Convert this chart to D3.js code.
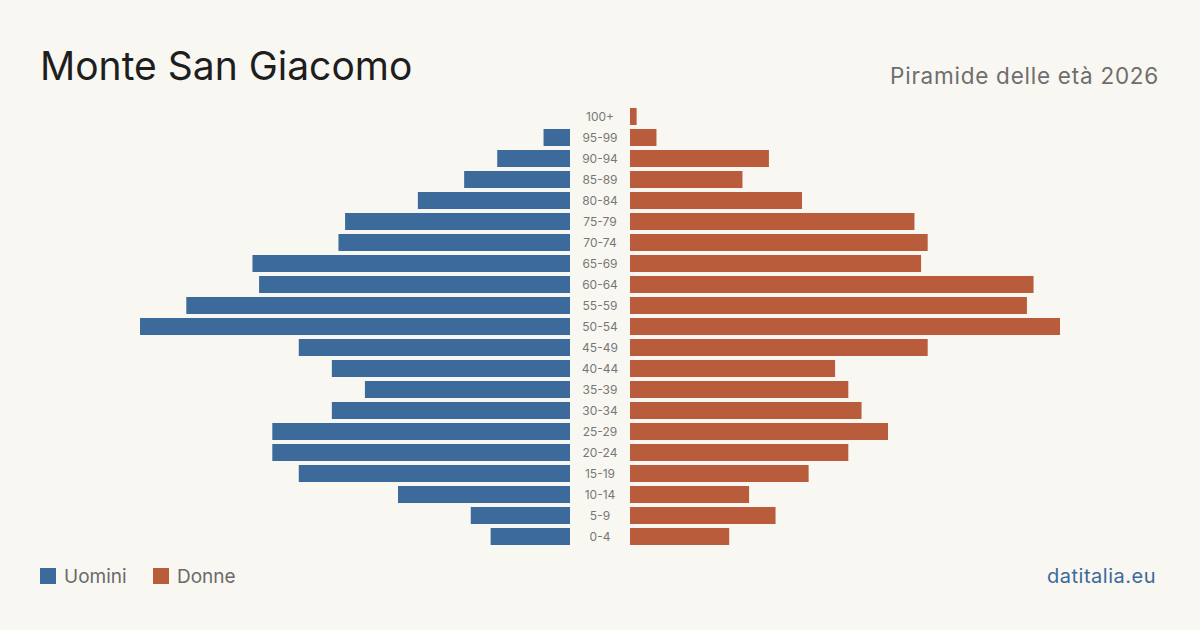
<!DOCTYPE html>
<html><head><meta charset="utf-8">
<script src="https://cdn.jsdelivr.net/npm/d3@7"></script>
<style>
html,body{margin:0;padding:0;background:#f9f7f2;}
svg{display:block;font-family:Inter,"Noto Sans",sans-serif;}
</style></head>
<body><svg id="c" width="1200" height="630"></svg>
<script>
const ageGroups = ["100+","95-99","90-94","85-89","80-84","75-79","70-74","65-69","60-64","55-59","50-54","45-49","40-44","35-39","30-34","25-29","20-24","15-19","10-14","5-9","0-4"];
const men   = [0,4,11,16,23,34,35,48,47,58,65,41,36,31,36,45,45,41,26,15,12];
const women = [1,4,21,17,26,43,45,44,61,60,65,45,31,33,35,39,33,27,18,22,15];
const legendLabels = ["Uomini","Donne"];
const colors = {men:"#3b6a9b", women:"#b95c3b"};

const svg = d3.select("#c");
svg.append("rect").attr("width",1200).attr("height",630).attr("fill","#f9f7f2");

const y = d3.scaleBand().domain(ageGroups).range([106,547]).paddingInner(0.19).paddingOuter(0.095);
const maxV = d3.max([...men,...women]);
const xL = d3.scaleLinear().domain([0,maxV]).range([570,140]);
const xR = d3.scaleLinear().domain([0,maxV]).range([630,1060]);

svg.append("g").selectAll("rect").data(ageGroups).join("rect")
  .attr("x",(d,i)=>xL(men[i])).attr("y",d=>y(d))
  .attr("width",(d,i)=>xL(0)-xL(men[i])).attr("height",y.bandwidth())
  .attr("fill",colors.men);
svg.append("g").selectAll("rect").data(ageGroups).join("rect")
  .attr("x",xR(0)).attr("y",d=>y(d))
  .attr("width",(d,i)=>xR(women[i])-xR(0)).attr("height",y.bandwidth())
  .attr("fill",colors.women);

svg.append("g").selectAll("text").data(ageGroups).join("text")
  .attr("x",600).attr("y",d=>y(d)+y.bandwidth()/2)
  .attr("text-anchor","middle").attr("dominant-baseline","central")
  .attr("font-size",12).attr("fill","#777").text(d=>d);

svg.append("text").attr("x",40).attr("y",80).attr("font-size",39).attr("fill","#1e1e1e").text("Monte San Giacomo");
svg.append("text").attr("x",1159).attr("y",84).attr("text-anchor","end").attr("font-size",22.5).attr("letter-spacing",0.75).attr("fill","#6e6e6e").text("Piramide delle età 2026");

const lg = svg.append("g");
[[40,colors.men,legendLabels[0]],[153,colors.women,legendLabels[1]]].forEach(([x,c,t])=>{
  lg.append("rect").attr("x",x).attr("y",568).attr("width",16).attr("height",16).attr("fill",c);
  lg.append("text").attr("x",x+24).attr("y",583).attr("font-size",19).attr("fill","#6a6a6a").text(t);
});
svg.append("text").attr("x",1156).attr("y",583).attr("text-anchor","end").attr("font-size",20).attr("letter-spacing",0.5).attr("fill","#3b6a9b").text("datitalia.eu");
</script></body></html>
